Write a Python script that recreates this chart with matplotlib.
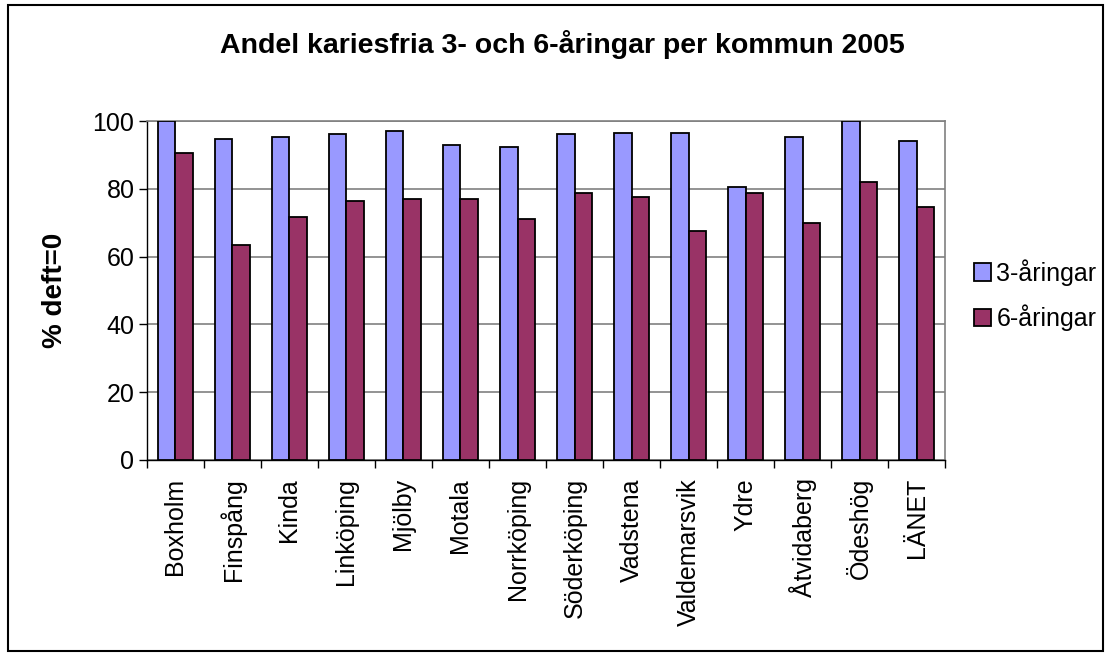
import numpy as np
import matplotlib.pyplot as plt

plt.rcParams['font.family'] = ['Liberation Sans', 'DejaVu Sans']

kommuner = ["Boxholm", "Finspång", "Kinda", "Linköping", "Mjölby", "Motala",
            "Norrköping", "Söderköping", "Vadstena", "Valdemarsvik", "Ydre",
            "Åtvidaberg", "Ödeshög", "LÄNET"]
aringar3 = [100.0, 94.8, 95.4, 96.1, 97.1, 93.0, 92.4, 96.1, 96.6, 96.6, 80.6, 95.4, 100.0, 94.2]
aringar6 = [90.6, 63.4, 71.7, 76.5, 77.0, 77.0, 71.1, 78.8, 77.6, 67.6, 78.8, 70.0, 81.9, 74.7]

fig = plt.figure(figsize=(11.1, 6.56), dpi=100)
ax = fig.add_axes([0.1324, 0.2988, 0.7190, 0.5167])

x = np.arange(len(kommuner))
w = 0.31
ax.bar(x - w/2, aringar3, w, color='#9999FF', edgecolor='black', linewidth=1.3,
       label='3-åringar', zorder=3)
ax.bar(x + w/2, aringar6, w, color='#993366', edgecolor='black', linewidth=1.3,
       label='6-åringar', zorder=3)

ax.set_xlim(-0.5, len(kommuner) - 0.5)
ax.set_ylim(0, 100)
ax.set_yticks(range(0, 101, 20))
ax.tick_params(axis='y', labelsize=18, length=6, width=1, direction='out', pad=3)
ax.yaxis.grid(True, color='#808080', linewidth=1.2, zorder=0)

ax.set_xticks(x)
ax.set_xticklabels(kommuner, rotation=90, fontsize=18)
ax.tick_params(axis='x', length=0, pad=13)
ax.set_xticks(np.arange(-0.5, len(kommuner)), minor=True)
ax.tick_params(axis='x', which='minor', length=6, width=1, direction='out')

for s in ['top', 'right']:
    ax.spines[s].set_color('#808080')
    ax.spines[s].set_linewidth(1.2)
for s in ['left', 'bottom']:
    ax.spines[s].set_color('black')
    ax.spines[s].set_linewidth(1)

ax.set_ylabel('% deft=0', fontsize=20, fontweight='bold')
ax.yaxis.set_label_coords(-0.099, 0.5)
fig.text(0.507, 0.919, 'Andel kariesfria 3- och 6-åringar per kommun 2005',
         ha='center', va='baseline', fontsize=20.5, fontweight='bold')

leg = fig.legend(loc='center left', bbox_to_anchor=(0.866, 0.55), frameon=False,
                 fontsize=18, handlelength=0.7, handleheight=0.7,
                 handletextpad=0.2, labelspacing=0.75, borderpad=0)

border = plt.Rectangle((0.007, 0.008), 0.987, 0.984, transform=fig.transFigure,
                       fill=False, edgecolor='black', linewidth=1.5)
fig.patches.append(border)

fig.savefig('out.png', dpi=100)
